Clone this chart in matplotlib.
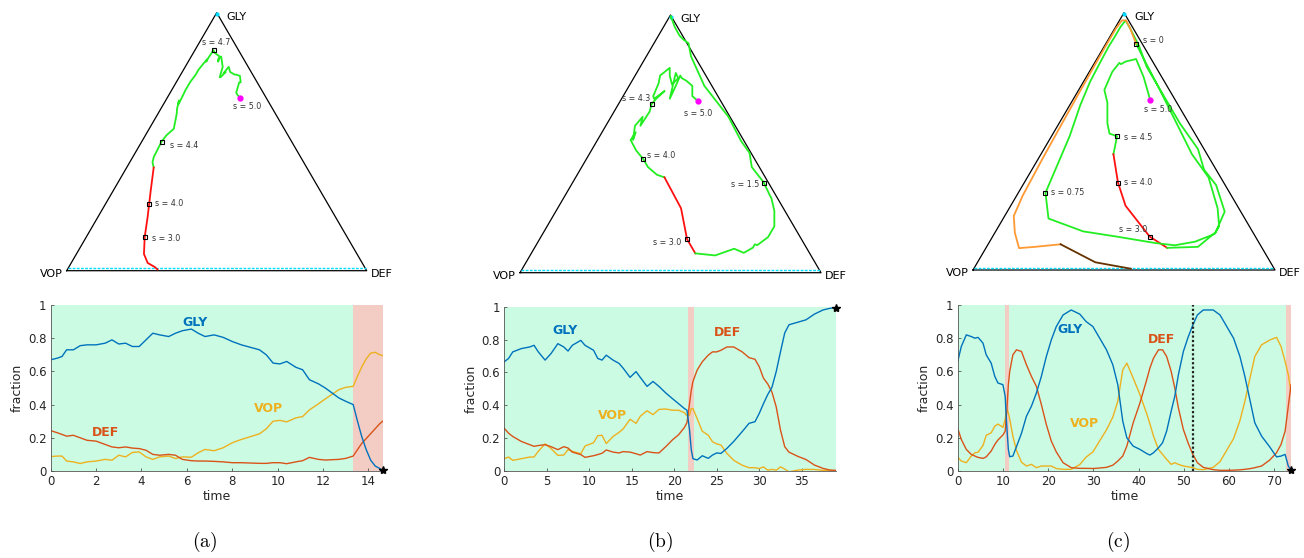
import numpy as np
import matplotlib.pyplot as plt

plt.rcParams['font.family'] = 'DejaVu Sans'
plt.rcParams['mathtext.fontset'] = 'cm'

# ---------------- data ----------------
# panel (a)
t_a = [0, 0.3, 0.5, 0.7, 1.0, 1.3, 1.6, 2.0, 2.4, 2.7, 3.0, 3.3, 3.6, 3.9, 4.2,
       4.5, 4.8, 5.2, 5.5, 5.8, 6.2, 6.5, 6.8, 7.2, 7.6, 8.0, 8.4, 8.8, 9.2, 9.5,
       9.8, 10.1, 10.4, 10.8, 11.1, 11.4, 11.8, 12.1, 12.4, 12.7, 13.0, 13.33, 13.5,
       13.6, 13.7, 13.9, 14.1, 14.3, 14.5, 14.63]
gly_a = [0.67, 0.68, 0.69, 0.73, 0.73, 0.755, 0.76, 0.76, 0.77, 0.79, 0.765, 0.77, 0.75,
         0.75, 0.79, 0.83, 0.82, 0.81, 0.83, 0.845, 0.855, 0.83, 0.81, 0.82, 0.805, 0.78,
         0.76, 0.745, 0.73, 0.70, 0.65, 0.645, 0.66, 0.625, 0.61, 0.55, 0.525, 0.50, 0.47,
         0.44, 0.42, 0.40, 0.31, 0.26, 0.21, 0.13, 0.065, 0.03, 0.015, 0.005]
def_a = [0.243, 0.23, 0.22, 0.21, 0.215, 0.20, 0.185, 0.18, 0.16, 0.145, 0.14, 0.145, 0.138,
         0.135, 0.125, 0.10, 0.095, 0.10, 0.095, 0.07, 0.062, 0.06, 0.06, 0.058, 0.055, 0.05,
         0.05, 0.048, 0.046, 0.046, 0.05, 0.05, 0.044, 0.055, 0.062, 0.082, 0.07, 0.066, 0.068,
         0.07, 0.076, 0.09, 0.125, 0.145, 0.165, 0.195, 0.225, 0.255, 0.285, 0.30]
red_a = [(13.33, 14.63)]
s_lab_a = ['5.0', '4.7', '4.4', '4.0', '3.0']
s_t_a = [0, 6.2, 12.1, 13.6, 13.9]

# panel (b)
t_b = [0, 0.5, 1, 2, 3, 3.5, 4, 4.8, 5.5, 6.3, 7, 7.5, 8, 9, 9.5, 10.5, 11, 11.5, 12,
       12.8, 13.5, 14, 14.8, 15.5, 16, 16.8, 17.5, 18.2, 19, 19.8, 20.5, 21.2, 21.5, 21.8,
       22.0, 22.2, 22.7, 23.3, 24.0, 24.5, 25, 25.5, 26.2, 27, 28, 28.8, 29.5, 30, 30.5,
       31, 31.5, 32, 32.5, 33, 33.5, 34.5, 35.5, 36.5, 37.5, 38.3, 39.0]
gly_b = [0.665, 0.685, 0.725, 0.745, 0.755, 0.765, 0.725, 0.675, 0.715, 0.775, 0.755, 0.73,
         0.765, 0.795, 0.765, 0.735, 0.685, 0.675, 0.705, 0.675, 0.655, 0.625, 0.57, 0.605,
         0.57, 0.515, 0.545, 0.515, 0.475, 0.44, 0.41, 0.38, 0.37, 0.25, 0.13, 0.075, 0.067,
         0.093, 0.077, 0.097, 0.11, 0.107, 0.138, 0.18, 0.24, 0.29, 0.30, 0.35, 0.41, 0.465,
         0.51, 0.605, 0.725, 0.84, 0.89, 0.905, 0.92, 0.955, 0.98, 0.99, 0.995]
def_b = [0.26, 0.23, 0.21, 0.18, 0.16, 0.15, 0.155, 0.16, 0.148, 0.13, 0.148, 0.14, 0.115,
         0.10, 0.083, 0.093, 0.10, 0.108, 0.128, 0.115, 0.11, 0.118, 0.115, 0.105, 0.097,
         0.118, 0.112, 0.11, 0.148, 0.19, 0.22, 0.265, 0.295, 0.41, 0.49, 0.545, 0.615, 0.665,
         0.705, 0.725, 0.725, 0.735, 0.755, 0.755, 0.725, 0.69, 0.68, 0.635, 0.565, 0.53, 0.48,
         0.39, 0.25, 0.148, 0.115, 0.09, 0.07, 0.036, 0.016, 0.006, 0.004]
red_b = [(21.6, 22.3)]
s_lab_b = ['5.0', '4.3', '4.0', '3.0', '1.5']
s_t_b = [0, 13.5, 19.8, 22.0, 30]

# panel (c)
t_c = [0, 0.8, 1.9, 3, 3.8, 4.5, 5.6, 6.3, 7.4, 8.2, 8.9, 10, 10.5, 10.7, 10.9, 11.2, 11.5,
       12.2, 13, 14.1, 15.2, 16.3, 17.4, 18.5, 19.6, 20.7, 21.8, 23.3, 25.1, 27, 28.4, 29.9,
       31.4, 32.9, 34.3, 35.4, 36.5, 37.4, 38.8, 40.3, 41.8, 42.5, 43.3, 44.4, 45.3, 46.2,
       47.2, 48.0, 48.8, 49.9, 51, 52, 53, 54.3, 56.5, 58, 59.5, 61, 62.4, 63.5, 64.6, 65.7,
       67.2, 69, 70.5, 71.5, 72.4, 73.1, 73.7]
gly_c = [0.66, 0.75, 0.82, 0.81, 0.80, 0.805, 0.77, 0.70, 0.65, 0.57, 0.53, 0.52, 0.45, 0.34,
         0.25, 0.13, 0.086, 0.09, 0.147, 0.227, 0.33, 0.39, 0.47, 0.57, 0.69, 0.79, 0.87, 0.94,
         0.97, 0.945, 0.90, 0.87, 0.80, 0.73, 0.64, 0.52, 0.30, 0.20, 0.15, 0.13, 0.105, 0.096,
         0.11, 0.14, 0.17, 0.24, 0.36, 0.45, 0.58, 0.72, 0.81, 0.88, 0.94, 0.97, 0.97, 0.94,
         0.87, 0.80, 0.69, 0.57, 0.43, 0.29, 0.21, 0.145, 0.085, 0.09, 0.10, 0.03, 0.005]
def_c = [0.257, 0.19, 0.13, 0.10, 0.09, 0.082, 0.076, 0.085, 0.12, 0.16, 0.187, 0.217, 0.24,
         0.31, 0.38, 0.52, 0.60, 0.70, 0.73, 0.72, 0.64, 0.57, 0.51, 0.40, 0.28, 0.18, 0.115,
         0.05, 0.02, 0.016, 0.016, 0.015, 0.018, 0.022, 0.035, 0.06, 0.09, 0.15, 0.29, 0.41,
         0.55, 0.62, 0.68, 0.73, 0.73, 0.69, 0.60, 0.50, 0.38, 0.25, 0.165, 0.10, 0.05, 0.022,
         0.008, 0.004, 0.004, 0.005, 0.007, 0.01, 0.014, 0.02, 0.03, 0.066, 0.11, 0.16, 0.24,
         0.39, 0.52]
red_c = [(10.45, 11.4), (72.6, 73.7)]
switch_c = 52.1
s_lab_c = ['5.0', '0', '4.5', '4.0', '3.0', '0.75']
s_t_c = [0, 52, 10, 10.7, 11.2, 36.5]

# ---------------- style ----------------
C_GLY, C_DEF, C_VOP = '#0072BD', '#D95319', '#EDB120'
BG_OK, BG_RED = '#cbfce3', '#f3cdc4'
GREEN, RED, ORANGE, BROWN = '#22ee22', '#ff1010', '#ff9933', '#663300'
SQ3 = np.sqrt(3) / 2

fig = plt.figure(figsize=(13.04, 5.58), dpi=100)


def px_rect(l, t, r, b):
    return [l / 1304, 1 - b / 558, (r - l) / 1304, (b - t) / 558]


def in_band(m, bands):
    return any(a <= m <= b for a, b in bands)


def draw_triangle(rect, t, gly, dfe, colour_of, s_t, s_lab, s_off):
    ax = fig.add_axes(rect)
    ax.set_xlim(0, 1)
    ax.set_ylim(0, SQ3)
    ax.axis('off')
    ax.plot([0, 1, 0.5, 0], [0, 0, SQ3, 0], color='k', lw=0.9, clip_on=False)
    ax.plot([0.004, 0.996], [0.008, 0.008], color='#00dcff', lw=1.0,
            ls=(0, (2, 1)), clip_on=False)
    ax.plot(0.5, SQ3 - 0.006, 'o', color='#00dcff', ms=2, clip_on=False)

    t = np.asarray(t)
    g = np.asarray(gly)
    d = np.asarray(dfe)
    x, y = d + g / 2, g * SQ3
    mids = (t[:-1] + t[1:]) / 2
    cols = [colour_of(m) for m in mids]
    start = 0
    for i in range(1, len(cols) + 1):
        if i == len(cols) or cols[i] != cols[start]:
            ax.plot(x[start:i + 1], y[start:i + 1], color=cols[start], lw=1.3,
                    clip_on=False, zorder=3)
            start = i

    for k, (ts, lab) in enumerate(zip(s_t, s_lab)):
        j = int(np.argmin(np.abs(t - ts)))
        if k == 0:
            ax.plot(x[j], y[j], 'o', color='#ff00ff', ms=3.5, zorder=5)
        else:
            ax.plot(x[j], y[j], 's', mfc='none', mec='k', ms=3, mew=0.8, zorder=5)
        dx, dy, ha = s_off[k]
        ax.annotate('s = ' + lab, (x[j], y[j]), xytext=(dx, dy),
                    textcoords='offset pixels', ha=ha, va='center',
                    fontsize=5.7, color='#333333')

    ax.annotate('GLY', (0.5, SQ3), xytext=(10, -4), textcoords='offset pixels',
                ha='left', va='center', fontsize=8)
    ax.annotate('VOP', (0, 0), xytext=(-4, -3), textcoords='offset pixels',
                ha='right', va='center', fontsize=8)
    ax.annotate('DEF', (1, 0), xytext=(4, -3), textcoords='offset pixels',
                ha='left', va='center', fontsize=8)


def draw_series(rect, t, gly, dfe, xmax, xticks, bands, names, vline=None):
    ax = fig.add_axes(rect)
    t = np.asarray(t)
    g = np.asarray(gly)
    d = np.asarray(dfe)
    v = 1 - g - d
    ax.set_facecolor(BG_OK)
    for a, b in bands:
        ax.axvspan(a, b, color=BG_RED, lw=0, zorder=0.5)
    ax.plot(t, v, color=C_VOP, lw=1.0, zorder=2)
    ax.plot(t, d, color=C_DEF, lw=1.0, zorder=2)
    ax.plot(t, g, color=C_GLY, lw=1.0, zorder=2)
    if vline is not None:
        ax.axvline(vline, color='#222222', lw=1.6, ls=(0, (1, 1)), zorder=3)
    ax.plot(t[-1], g[-1], '*', color='k', ms=6, clip_on=False, zorder=6)

    for txt, col, (tx, ty) in zip(['GLY', 'DEF', 'VOP'], [C_GLY, C_DEF, C_VOP], names):
        ax.text(tx, ty, txt, color=col, fontsize=9, fontweight='bold',
                ha='center', va='center')

    ax.set_xlim(0, xmax)
    ax.set_ylim(0, 1)
    ax.set_xticks(xticks)
    ax.set_yticks([0, 0.2, 0.4, 0.6, 0.8, 1])
    ax.set_yticklabels(['0', '0.2', '0.4', '0.6', '0.8', '1'])
    for s in ['top', 'right']:
        ax.spines[s].set_visible(False)
    for s in ['left', 'bottom']:
        ax.spines[s].set_color('#555555')
        ax.spines[s].set_linewidth(0.6)
    ax.tick_params(direction='in', length=2.5, width=0.6, labelsize=8.5,
                   color='#555555', labelcolor='#262626', pad=3)
    ax.set_xlabel('time', fontsize=9, color='#262626', labelpad=1)
    ax.set_ylabel('fraction', fontsize=9, color='#262626', labelpad=3)


# ---- (a) ----
draw_triangle(px_rect(66.7, 12.7, 366.7, 270.7), t_a, gly_a, def_a,
              lambda m: RED if in_band(m, red_a) else GREEN,
              s_t_a, s_lab_a,
              [(7, -9, 'center'), (3, 8, 'center'), (8, -4, 'left'),
               (6, 0, 'left'), (7, -1, 'left')])
draw_series(px_rect(50.7, 305, 382.7, 471), t_a, gly_a, def_a, 14.63,
            range(0, 15, 2), red_a,
            [(6.36, 0.895), (2.4, 0.233), (9.6, 0.377)])

# ---- (b) ----
draw_triangle(px_rect(520, 15, 821, 272.7), t_b, gly_b, def_b,
              lambda m: RED if in_band(m, red_b) else GREEN,
              s_t_b, s_lab_b,
              [(0, -12, 'center'), (-1.5, 5, 'right'), (4, 4, 'left'),
               (-6, -3, 'right'), (-4.5, -2, 'right')])
draw_series(px_rect(504.3, 306.7, 835.7, 471), t_b, gly_b, def_b, 39.0,
            range(0, 40, 5), red_b,
            [(7.1, 0.858), (26.3, 0.842), (12.7, 0.335)])


# ---- (c) ----
def colour_c(m):
    if m < switch_c:
        return RED if in_band(m, red_c) else GREEN
    return BROWN if in_band(m, red_c) else ORANGE


draw_triangle(px_rect(973, 12.7, 1275, 270), t_c, gly_c, def_c, colour_c,
              s_t_c, s_lab_c,
              [(8, -9, 'center'), (7, 3, 'left'), (7, -1, 'left'),
               (6, 0, 'left'), (-2, 7, 'right'), (6, 0, 'left')])
draw_series(px_rect(957.7, 305, 1291, 471), t_c, gly_c, def_c, 73.7,
            range(0, 80, 10), red_c,
            [(24.8, 0.853), (45.0, 0.793), (28.1, 0.287)], vline=switch_c)

for xc, lab in [(205, '(a)'), (660, '(b)'), (1118, '(c)')]:
    fig.text(xc / 1304, 1 - 542 / 558, r'$\mathrm{' + lab + '}$', fontsize=14,
             ha='center', va='center')

fig.savefig('out.png', dpi=100)
